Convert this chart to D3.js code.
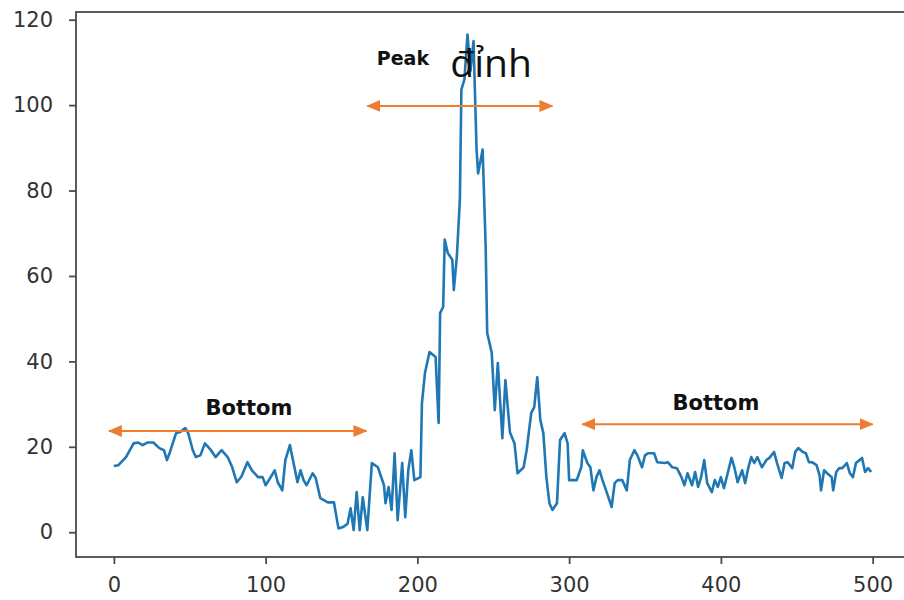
<!DOCTYPE html>
<html>
<head>
<meta charset="utf-8">
<script src="https://cdn.jsdelivr.net/npm/d3@7"></script>
<style>
  html, body { margin: 0; padding: 0; background: #fff; }
  svg { display: block; }
</style>
</head>
<body>
<svg id="chart" width="904" height="600"></svg>
<script>
// ---- data ----
const xs = [0,3,8,13,16,19,22,26,30,33,35,37,41,44,47,49,52,54,57,60,64,67,71,75,78,81,84,88,91,95,98,100,103,106,108,111,113,116,118,121,123,125,127,131,133,136,141,145,148,151,154,156,158,160,162,164,167,170,174,178,179,181,183,185,187,190,192,194,196,198,202,203,205,208,212,214,215,217,218,220,223,224,226,228,229,231,233,235,237,239,240,243,245,246,249,251,253,256,258,261,264,266,270,272,275,277,279,281,283,285,287,289,292,294,297,299,300,305,308,309,312,314,316,318,320,322,325,328,330,332,335,338,340,343,345,348,350,352,356,358,363,365,368,371,374,376,378,381,383,385,387,389,391,394,396,398,400,402,407,409,411,414,416,418,420,422,424,427,430,432,435,437,440,442,444,447,449,451,454,456,458,460,463,465,466,468,470,473,474,476,478,480,483,485,487,489,493,495,497,499];
const values = [15.5,15.7,17.6,20.8,21,20.4,21,21,19.7,19.2,16.9,18.8,23.2,23.5,24.4,23.2,19.2,17.6,18,20.8,19.2,17.6,19.2,17.6,15.2,11.7,13,16.4,14.5,12.9,12.9,11,12.7,14.5,11.7,9.8,16.9,20.4,16.9,11.7,14.5,12.2,11,13.8,12.7,8,7,7,0.9,1.2,2,5.6,0.5,9.4,0.5,8.2,0.5,16.2,15.2,11,6.8,10.6,5.2,18.5,2.8,16.2,3.5,14.5,19.2,12.2,12.9,30.2,37.3,42.2,41,25.6,51.3,52.8,68.5,65.4,63.8,56.7,64.5,77.8,103.6,106,116.5,108,115,89.6,84,89.6,66.8,46.7,42,28.6,39.6,22,35.6,23.4,20.8,13.8,15.2,19.2,27.9,29.3,36.3,26.3,23.2,12.9,6.8,5.2,6.8,21.6,23.2,20.8,12.2,12.2,15.2,19.2,16.2,15.2,9.8,12.9,14.5,12.2,9.1,5.9,11.5,12.2,12.2,9.8,16.9,19.2,18,15.2,18,18.5,18.5,16.4,16.2,16.4,15.2,15,12.9,11,13.8,11,14.1,10.6,12.9,16.9,11.5,9.4,12.2,10.6,12.9,10.3,17.4,15,11.7,14.5,11.5,15,17.6,16.2,17.6,15.2,16.9,17.4,18.8,16.2,12.7,16.2,16.4,15,18.8,19.7,18.8,18.5,16.4,16.4,15.7,13.4,9.8,14.5,13.8,12.9,9.8,14.1,15,15,16.2,13.8,12.9,16.2,17.4,14.1,15,14.1];
const xTicks = [0,100,200,300,400,500];
const yTicks = [0,20,40,60,80,100,120];

// annotations: double arrows (data coords) and labels
const arrowX1 = [-3.3, 167, 308.6];
const arrowX2 = [166.4, 289, 500];
const arrowY  = [23.7, 99.8, 25.3];
const labelTexts = ["Bottom", "Peak", "đỉnh", "Bottom"];
const labelX = [89, 190.5, 221.7, 396.7];
const labelY = [27.4, 109.4, 106.6, 28.6];

// ---- drawing ----
const svg = d3.select("#chart");
const L = 76, R = 909, T = 12, B = 557;
const x = d3.scaleLinear().domain([-24.95, 523.95]).range([L, R]);
const y = d3.scaleLinear().domain([-5.8, 121.8]).range([B, T]);

const defs = svg.append("defs");
const orange = "#ED7D31";
defs.append("marker").attr("id", "headEnd")
  .attr("viewBox", "0 0 14 12").attr("refX", 13).attr("refY", 6)
  .attr("markerWidth", 14).attr("markerHeight", 12).attr("markerUnits", "userSpaceOnUse")
  .attr("orient", "auto")
  .append("path").attr("d", "M0,0 L14,6 L0,12 Z").attr("fill", orange);
defs.append("marker").attr("id", "headStart")
  .attr("viewBox", "0 0 14 12").attr("refX", 1).attr("refY", 6)
  .attr("markerWidth", 14).attr("markerHeight", 12).attr("markerUnits", "userSpaceOnUse")
  .attr("orient", "auto")
  .append("path").attr("d", "M14,0 L0,6 L14,12 Z").attr("fill", orange);

// data line
const pts = xs.map((d, i) => [d, values[i]]);
svg.append("path")
  .datum(pts)
  .attr("fill", "none")
  .attr("stroke", "#1f77b4")
  .attr("stroke-width", 2.6)
  .attr("stroke-linejoin", "round")
  .attr("d", d3.line().x(d => x(d[0])).y(d => y(d[1])));

// spines
svg.append("rect").attr("x", L).attr("y", T).attr("width", R - L).attr("height", B - T)
  .attr("fill", "none").attr("stroke", "#4a4a4a").attr("stroke-width", 1.8);

// axes
const xAxis = d3.axisBottom(x).tickValues(xTicks).tickSize(7).tickPadding(13).tickFormat(d3.format("d"));
const yAxis = d3.axisLeft(y).tickValues(yTicks).tickSize(7).tickPadding(16).tickFormat(d3.format("d"));
const gx = svg.append("g").attr("transform", `translate(0,${B})`).call(xAxis);
const gy = svg.append("g").attr("transform", `translate(${L},0)`).call(yAxis);
[gx, gy].forEach(g => {
  g.select(".domain").remove();
  g.selectAll(".tick line").attr("stroke", "#4a4a4a").attr("stroke-width", 1.8);
  g.selectAll(".tick text").attr("fill", "#333").style("font-family", "DejaVu Sans").style("font-size", "21px");
});

// arrows
svg.selectAll("line.arrow").data(arrowY).enter().append("line")
  .attr("class", "arrow")
  .attr("x1", (d, i) => x(arrowX1[i])).attr("x2", (d, i) => x(arrowX2[i]))
  .attr("y1", d => y(d)).attr("y2", d => y(d))
  .attr("stroke", orange).attr("stroke-width", 2)
  .attr("marker-start", "url(#headStart)").attr("marker-end", "url(#headEnd)");

// labels
const labelStyle = [
  {anchor: "middle", size: 21, weight: 700, family: "DejaVu Sans"},
  {anchor: "middle", size: 19, weight: 700, family: "DejaVu Sans"},
  {anchor: "start", size: 39, weight: 400, family: "Open Sans"},
  {anchor: "middle", size: 21, weight: 700, family: "DejaVu Sans"}
];
svg.selectAll("text.lab").data(labelTexts).enter().append("text")
  .attr("class", "lab")
  .attr("x", (d, i) => x(labelX[i])).attr("y", (d, i) => y(labelY[i]))
  .attr("text-anchor", (d, i) => labelStyle[i].anchor)
  .style("font-family", (d, i) => labelStyle[i].family)
  .style("font-size", (d, i) => labelStyle[i].size + "px")
  .style("font-weight", (d, i) => labelStyle[i].weight)
  .attr("fill", "#111")
  .text(d => d);
</script>
</body>
</html>
